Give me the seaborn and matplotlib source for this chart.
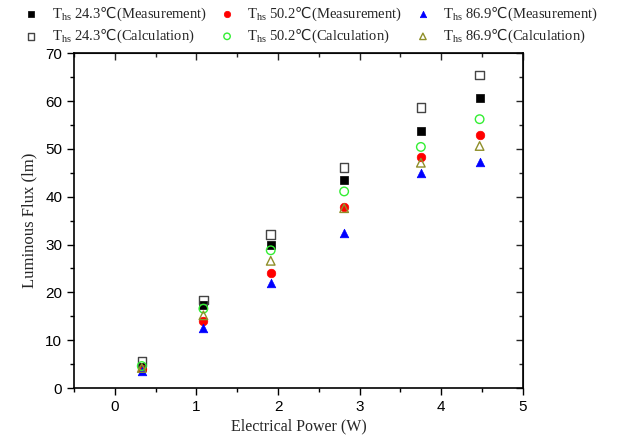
import matplotlib
matplotlib.use("Agg")
import matplotlib.pyplot as plt
import seaborn as sns
import pandas as pd
from matplotlib.ticker import MultipleLocator

sns.set_style("white")
plt.rcParams["font.family"] = ["Liberation Sans", "DejaVu Sans"]
plt.rcParams["mathtext.fontset"] = "custom"
plt.rcParams["mathtext.rm"] = "Liberation Serif"
plt.rcParams["mathtext.sf"] = "DejaVu Sans"

# Electrical power (W) at each drive point
power = [0.33, 1.085, 1.91, 2.81, 3.75, 4.47]

# Luminous flux (lm), measured
meas_24 = [4.4, 17.3, 29.9, 43.5, 53.8, 60.7]
meas_50 = [4.0, 14.0, 24.0, 37.9, 48.3, 52.8]
meas_87 = [3.6, 12.6, 21.9, 32.4, 44.9, 47.2]

# Luminous flux (lm), calculated
calc_24 = [5.6, 18.4, 32.1, 46.1, 58.6, 65.4]
calc_50 = [4.6, 16.6, 28.8, 41.1, 50.4, 56.2]
calc_87 = [4.2, 15.2, 26.6, 37.6, 47.1, 50.6]

temps = ["24.3", "24.3", "50.2", "50.2", "86.9", "86.9"]
kinds = ["Measurement", "Calculation"] * 3
labels = [r"T$_{\rm hs}$ " + t + r"$\mathsf{℃}$(" + k + ")" for t, k in zip(temps, kinds)]

series = [
    (meas_24, "s", "black", True),
    (calc_24, "s", "#444444", False),
    (meas_50, "o", "#ff0000", True),
    (calc_50, "o", "#33ee33", False),
    (meas_87, "^", "#0000ff", True),
    (calc_87, "^", "#8f8f2a", False),
]

fig = plt.figure(figsize=(6.33, 4.43), dpi=100)
ax = fig.add_axes([0.117, 0.124, 0.709, 0.756])

for (vals, mk, col, filled), lab in zip(series, labels):
    df = pd.DataFrame({"P": power, "F": vals})
    if filled:
        sns.scatterplot(data=df, x="P", y="F", marker=mk, s=38, color=col,
                        edgecolor=col, linewidth=0.5, ax=ax, label=lab, zorder=3)
    else:
        sns.scatterplot(data=df, x="P", y="F", marker=mk, s=38, facecolor="none",
                        edgecolor=col, linewidth=1.0, ax=ax, label=lab, zorder=4)

ax.set_xlim(-0.5, 5)
ax.set_ylim(0, 70)
ax.xaxis.set_major_locator(MultipleLocator(1))
ax.xaxis.set_minor_locator(MultipleLocator(0.5))
ax.yaxis.set_major_locator(MultipleLocator(10))
ax.yaxis.set_minor_locator(MultipleLocator(5))

for sp in ax.spines.values():
    sp.set_color("black")
    sp.set_linewidth(1.2)

ax.tick_params(which="both", direction="out", bottom=True, left=True,
               top=False, right=False, colors="black", labelsize=11, width=1.0)
ax.tick_params(which="major", length=5)
ax.tick_params(which="minor", length=3)

# mirrored inward ticks on top and right
axt = ax.secondary_xaxis("top")
axt.xaxis.set_major_locator(MultipleLocator(1))
axt.xaxis.set_minor_locator(MultipleLocator(0.5))
axt.tick_params(which="both", direction="in", labeltop=False, width=1.0)
axt.tick_params(which="major", length=5)
axt.tick_params(which="minor", length=3)
axr = ax.secondary_yaxis("right")
axr.yaxis.set_major_locator(MultipleLocator(10))
axr.yaxis.set_minor_locator(MultipleLocator(5))
axr.tick_params(which="both", direction="in", labelright=False, width=1.0)
axr.tick_params(which="major", length=5)
axr.tick_params(which="minor", length=3)

serif = ["Liberation Serif", "DejaVu Serif"]
ax.set_xlabel("Electrical Power (W)", family=serif, fontsize=11.5, labelpad=3)
ax.set_ylabel("Luminous Flux (lm)", family=serif, fontsize=12, labelpad=6)

handles, labs = ax.get_legend_handles_labels()
ax.get_legend().remove()
fig.legend(handles, labs, ncol=3, loc="upper left", bbox_to_anchor=(0.017, 1.02),
           frameon=False, prop={"family": serif, "size": 10.5},
           columnspacing=0.9, handletextpad=0.9, labelspacing=0.3, markerscale=0.75,
           handlelength=1.0)

fig.savefig("out.png", dpi=100)
